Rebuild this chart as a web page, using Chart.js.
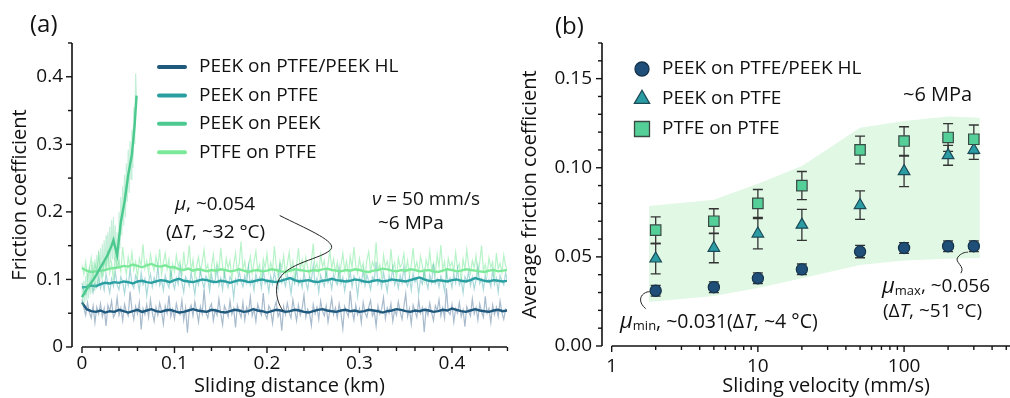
<!DOCTYPE html>
<html>
<head>
<meta charset="utf-8">
<script src="https://cdn.jsdelivr.net/npm/chart.js@4.4.0/dist/chart.umd.min.js"></script>
<style>
  html, body { margin: 0; padding: 0; background: #fff; overflow: hidden; }
  #wrap { position: relative; width: 1010px; height: 398px; overflow: hidden; }
  #boxA { position: absolute; left: 0; top: 0; }
  #boxB { position: absolute; left: 510px; top: 0; }
</style>
</head>
<body>
<div id="wrap">
  <div id="boxA"><canvas id="chartA" width="510" height="398"></canvas></div>
  <div id="boxB"><canvas id="chartB" width="565" height="398"></canvas></div>
</div>
<script>
const FONT = '"Open Sans", "Noto Sans", sans-serif';
Chart.defaults.font.family = FONT;
Chart.defaults.color = '#111';

// ---------- (a) friction coefficient vs sliding distance ----------
const MEAN_STEP = 0.005;      // km between smoothed samples
const RAW_STEP = 0.002;       // km between raw samples
const PEEK_RAW_STEP = 0.001;  // km between raw samples of the short PEEK/PEEK run

const distTicks = [0, 0.1, 0.2, 0.3, 0.4];
const cofTicks = [0, 0.1, 0.2, 0.3, 0.4];

const hlMean = [
  0.066, 0.056, 0.053, 0.052, 0.054, 0.051, 0.053, 0.052, 0.055, 0.053,
  0.051, 0.053, 0.055, 0.052, 0.054, 0.056, 0.053, 0.052, 0.054, 0.055,
  0.053, 0.051, 0.052, 0.054, 0.056, 0.054, 0.053, 0.052, 0.055, 0.054,
  0.052, 0.051, 0.053, 0.055, 0.054, 0.052, 0.053, 0.056, 0.054, 0.053,
  0.051, 0.053, 0.055, 0.054, 0.052, 0.053, 0.055, 0.054, 0.052, 0.051,
  0.053, 0.055, 0.056, 0.054, 0.053, 0.052, 0.054, 0.055, 0.053, 0.054,
  0.052, 0.053, 0.055, 0.054, 0.053, 0.051, 0.053, 0.054, 0.056, 0.055,
  0.053, 0.052, 0.054, 0.053, 0.055, 0.054, 0.052, 0.053, 0.055, 0.054,
  0.057, 0.055, 0.053, 0.052, 0.054, 0.056, 0.054, 0.053, 0.052, 0.054,
  0.055, 0.053, 0.054
];
const ptfeMean = [
  0.088, 0.089, 0.091, 0.090, 0.093, 0.095, 0.094, 0.096, 0.095, 0.097,
  0.096, 0.094, 0.097, 0.098, 0.096, 0.095, 0.097, 0.099, 0.098, 0.096,
  0.099, 0.101, 0.098, 0.097, 0.096, 0.098, 0.100, 0.099, 0.097, 0.096,
  0.098, 0.097, 0.095, 0.097, 0.099, 0.098, 0.096, 0.097, 0.099, 0.100,
  0.098, 0.097, 0.096, 0.098, 0.100, 0.102, 0.099, 0.097, 0.098, 0.099,
  0.097, 0.096, 0.098, 0.099, 0.101, 0.099, 0.098, 0.097, 0.098, 0.100,
  0.099, 0.097, 0.096, 0.098, 0.099, 0.097, 0.098, 0.100, 0.099, 0.098,
  0.097, 0.099, 0.101, 0.103, 0.100, 0.098, 0.097, 0.099, 0.098, 0.097,
  0.099, 0.100, 0.098, 0.097, 0.099, 0.102, 0.100, 0.098, 0.097, 0.099,
  0.098, 0.097, 0.098
];
const ptfePtfeMean = [
  0.117, 0.113, 0.111, 0.112, 0.113, 0.114, 0.116, 0.117, 0.118, 0.120,
  0.119, 0.122, 0.120, 0.118, 0.121, 0.123, 0.120, 0.119, 0.121, 0.118,
  0.118, 0.115, 0.114, 0.116, 0.113, 0.115, 0.114, 0.112, 0.114, 0.113,
  0.115, 0.114, 0.112, 0.113, 0.115, 0.113, 0.111, 0.113, 0.114, 0.112,
  0.113, 0.115, 0.114, 0.112, 0.111, 0.113, 0.115, 0.114, 0.113, 0.112,
  0.114, 0.113, 0.115, 0.116, 0.114, 0.113, 0.112, 0.114, 0.113, 0.115,
  0.114, 0.112, 0.111, 0.113, 0.114, 0.116, 0.115, 0.113, 0.112, 0.114,
  0.113, 0.115, 0.114, 0.112, 0.113, 0.114, 0.112, 0.111, 0.113, 0.115,
  0.114, 0.112, 0.113, 0.115, 0.114, 0.113, 0.112, 0.111, 0.113, 0.114,
  0.112, 0.113, 0.114
];

// raw friction readings, one every RAW_STEP km
const hlRaw = [
  0.070, 0.058, 0.047, 0.066, 0.051, 0.043, 0.061, 0.036, 0.059, 0.049,
  0.064, 0.045, 0.057, 0.031, 0.062, 0.053, 0.068, 0.044, 0.050, 0.073,
  0.047, 0.058, 0.039, 0.063, 0.052, 0.046, 0.082, 0.055, 0.041, 0.060,
  0.049, 0.066, 0.026, 0.057, 0.048, 0.063, 0.044, 0.070, 0.051, 0.038,
  0.059, 0.047, 0.065, 0.053, 0.034, 0.061, 0.050, 0.076, 0.045, 0.056,
  0.042, 0.064, 0.052, 0.048, 0.069, 0.040, 0.058, 0.021, 0.055, 0.062,
  0.046, 0.067, 0.053, 0.037, 0.060, 0.049, 0.085, 0.051, 0.043, 0.058,
  0.064, 0.039, 0.055, 0.047, 0.071, 0.050, 0.033, 0.061, 0.054, 0.045,
  0.068, 0.048, 0.057, 0.029, 0.062, 0.052, 0.044, 0.066, 0.040, 0.059,
  0.050, 0.074, 0.046, 0.056, 0.038, 0.063, 0.053, 0.047, 0.080, 0.049,
  0.042, 0.061, 0.055, 0.035, 0.058, 0.067, 0.045, 0.052, 0.024, 0.060,
  0.048, 0.065, 0.051, 0.043, 0.070, 0.054, 0.039, 0.062, 0.047, 0.057,
  0.077, 0.044, 0.056, 0.050, 0.032, 0.063, 0.049, 0.059, 0.041, 0.068,
  0.053, 0.046, 0.061, 0.037, 0.055, 0.072, 0.048, 0.058, 0.043, 0.064,
  0.050, 0.027, 0.060, 0.052, 0.045, 0.083, 0.054, 0.040, 0.062, 0.048,
  0.057, 0.036, 0.066, 0.051, 0.044, 0.059, 0.069, 0.046, 0.053, 0.031,
  0.061, 0.049, 0.056, 0.073, 0.042, 0.058, 0.050, 0.064, 0.038, 0.055,
  0.047, 0.067, 0.052, 0.041, 0.060, 0.079, 0.045, 0.057, 0.034, 0.062,
  0.053, 0.044, 0.069, 0.050, 0.058, 0.022, 0.056, 0.047, 0.065, 0.051,
  0.039, 0.061, 0.054, 0.070, 0.046, 0.058, 0.043, 0.087, 0.052, 0.048,
  0.063, 0.037, 0.057, 0.050, 0.066, 0.045, 0.055, 0.030, 0.060, 0.053,
  0.046, 0.071, 0.049, 0.058, 0.040, 0.064, 0.052, 0.044, 0.075, 0.050,
  0.057, 0.036, 0.062, 0.048, 0.059, 0.045, 0.068, 0.051, 0.041, 0.056,
  0.052
];
const ptfeRaw = [
  0.095, 0.083, 0.078, 0.092, 0.086, 0.099, 0.081, 0.094, 0.088, 0.103,
  0.087, 0.097, 0.084, 0.108, 0.093, 0.080, 0.101, 0.090, 0.112, 0.092,
  0.085, 0.104, 0.096, 0.079, 0.100, 0.091, 0.115, 0.094, 0.087, 0.106,
  0.098, 0.083, 0.110, 0.092, 0.101, 0.076, 0.097, 0.108, 0.089, 0.103,
  0.094, 0.119, 0.091, 0.099, 0.084, 0.106, 0.095, 0.088, 0.113, 0.097,
  0.086, 0.102, 0.093, 0.122, 0.096, 0.081, 0.104, 0.099, 0.090, 0.109,
  0.095, 0.078, 0.101, 0.092, 0.114, 0.097, 0.087, 0.105, 0.100, 0.083,
  0.107, 0.094, 0.099, 0.117, 0.091, 0.102, 0.085, 0.110, 0.096, 0.088,
  0.104, 0.098, 0.073, 0.101, 0.093, 0.112, 0.097, 0.089, 0.106, 0.095,
  0.120, 0.092, 0.100, 0.084, 0.108, 0.096, 0.103, 0.087, 0.115, 0.094,
  0.099, 0.082, 0.105, 0.093, 0.111, 0.097, 0.086, 0.124, 0.095, 0.101,
  0.090, 0.107, 0.098, 0.079, 0.103, 0.094, 0.116, 0.092, 0.100, 0.088,
  0.109, 0.096, 0.085, 0.104, 0.099, 0.121, 0.093, 0.102, 0.081, 0.106,
  0.097, 0.090, 0.113, 0.095, 0.101, 0.086, 0.108, 0.098, 0.092, 0.118,
  0.094, 0.103, 0.083, 0.100, 0.096, 0.111, 0.089, 0.105, 0.099, 0.075,
  0.102, 0.095, 0.114, 0.091, 0.107, 0.097, 0.085, 0.104, 0.099, 0.126,
  0.093, 0.101, 0.088, 0.110, 0.096, 0.082, 0.105, 0.098, 0.117, 0.092,
  0.100, 0.087, 0.106, 0.095, 0.119, 0.097, 0.090, 0.103, 0.084, 0.109,
  0.096, 0.102, 0.078, 0.100, 0.093, 0.113, 0.098, 0.087, 0.107, 0.095,
  0.123, 0.094, 0.101, 0.089, 0.105, 0.097, 0.083, 0.111, 0.096, 0.102,
  0.088, 0.108, 0.095, 0.116, 0.092, 0.100, 0.080, 0.104, 0.097, 0.112,
  0.091, 0.103, 0.086, 0.099, 0.120, 0.094, 0.101, 0.085, 0.107, 0.096,
  0.100, 0.089, 0.114, 0.093, 0.102, 0.081, 0.106, 0.098, 0.092, 0.110,
  0.097
];
const ptfePtfeRaw = [
  0.121, 0.108, 0.126, 0.101, 0.117, 0.132, 0.105, 0.123, 0.112, 0.138,
  0.115, 0.104, 0.129, 0.118, 0.143, 0.110, 0.124, 0.099, 0.135, 0.119,
  0.127, 0.112, 0.148, 0.121, 0.108, 0.133, 0.117, 0.140, 0.114, 0.126,
  0.103, 0.131, 0.120, 0.152, 0.116, 0.128, 0.109, 0.137, 0.122, 0.113,
  0.134, 0.118, 0.145, 0.107, 0.125, 0.139, 0.115, 0.130, 0.098, 0.123,
  0.111, 0.136, 0.119, 0.127, 0.105, 0.141, 0.116, 0.124, 0.150, 0.112,
  0.129, 0.102, 0.120, 0.133, 0.110, 0.126, 0.144, 0.114, 0.122, 0.096,
  0.118, 0.137, 0.108, 0.125, 0.113, 0.147, 0.119, 0.104, 0.131, 0.116,
  0.128, 0.100, 0.121, 0.139, 0.111, 0.124, 0.156, 0.115, 0.127, 0.106,
  0.119, 0.134, 0.109, 0.126, 0.142, 0.113, 0.122, 0.097, 0.130, 0.117,
  0.138, 0.110, 0.125, 0.114, 0.149, 0.120, 0.103, 0.128, 0.116, 0.135,
  0.107, 0.123, 0.140, 0.112, 0.127, 0.099, 0.121, 0.146, 0.115, 0.129,
  0.111, 0.133, 0.118, 0.105, 0.126, 0.153, 0.114, 0.124, 0.108, 0.137,
  0.119, 0.128, 0.101, 0.122, 0.143, 0.116, 0.130, 0.110, 0.125, 0.098,
  0.121, 0.139, 0.113, 0.127, 0.106, 0.134, 0.117, 0.148, 0.120, 0.109,
  0.131, 0.115, 0.124, 0.102, 0.129, 0.141, 0.112, 0.126, 0.118, 0.155,
  0.114, 0.122, 0.104, 0.136, 0.119, 0.127, 0.110, 0.145, 0.116, 0.125,
  0.100, 0.132, 0.118, 0.123, 0.138, 0.111, 0.128, 0.106, 0.121, 0.147,
  0.115, 0.126, 0.109, 0.134, 0.120, 0.099, 0.129, 0.117, 0.142, 0.113,
  0.124, 0.108, 0.137, 0.118, 0.151, 0.114, 0.127, 0.103, 0.131, 0.119,
  0.126, 0.112, 0.140, 0.116, 0.123, 0.097, 0.130, 0.115, 0.144, 0.121,
  0.109, 0.128, 0.117, 0.135, 0.104, 0.125, 0.150, 0.113, 0.122, 0.107,
  0.132, 0.118, 0.126, 0.101, 0.139, 0.116, 0.124, 0.110, 0.136, 0.120,
  0.115
];

// PEEK on PEEK: short run, friction climbs until the test stops
const peekDist = [0, 0.004, 0.008, 0.012, 0.016, 0.020, 0.024, 0.028, 0.032, 0.034, 0.038, 0.042, 0.046, 0.050, 0.054, 0.057, 0.059];
const peekMean = [0.074, 0.083, 0.092, 0.099, 0.108, 0.118, 0.127, 0.137, 0.150, 0.158, 0.136, 0.185, 0.215, 0.255, 0.285, 0.330, 0.372];
const peekRaw = [
  0.090, 0.060, 0.098, 0.066, 0.105, 0.070, 0.110, 0.072, 0.118, 0.078,
  0.122, 0.080, 0.126, 0.084, 0.130, 0.088, 0.136, 0.092, 0.142, 0.096,
  0.146, 0.100, 0.152, 0.104, 0.158, 0.110, 0.165, 0.114, 0.170, 0.118,
  0.178, 0.124, 0.188, 0.130, 0.192, 0.128, 0.180, 0.115, 0.170, 0.120,
  0.200, 0.145, 0.222, 0.165, 0.238, 0.180, 0.255, 0.192, 0.272, 0.215,
  0.292, 0.228, 0.305, 0.248, 0.322, 0.265, 0.355, 0.300, 0.405, 0.360
];

// ---------- (b) average friction vs sliding velocity ----------
const velocity = [2, 5, 10, 20, 50, 100, 200, 300];
const muHL = [0.031, 0.033, 0.038, 0.043, 0.053, 0.055, 0.056, 0.056];
const errHL = [0.003, 0.003, 0.003, 0.003, 0.0035, 0.003, 0.003, 0.003];
const muPeekPtfe = [0.049, 0.055, 0.063, 0.068, 0.079, 0.098, 0.107, 0.110];
const errPeekPtfe = [0.0085, 0.0083, 0.0085, 0.0087, 0.008, 0.0086, 0.0056, 0.0053];
const muPtfePtfe = [0.065, 0.070, 0.080, 0.090, 0.110, 0.115, 0.117, 0.116];
const errPtfePtfe = [0.0075, 0.007, 0.0078, 0.0079, 0.0078, 0.008, 0.0078, 0.008];

const bandVel = [1.8, 5, 10, 20, 50, 100, 200, 330];
const bandHigh = [0.0785, 0.082, 0.091, 0.101, 0.1225, 0.1262, 0.1287, 0.128];
const bandLow = [0.0247, 0.028, 0.0326, 0.038, 0.0455, 0.048, 0.049, 0.0494];

const velTicks = [1, 10, 100, 1000];
const avgTicks = [0, 0.05, 0.10, 0.15];

// ---------- helpers ----------
const onGrid = (vals, step) => vals.map((v, i) => ({ x: +(i * step).toFixed(4), y: v }));
const paired = (xs, ys) => xs.map((x, i) => ({ x: x, y: ys[i] }));

function richText(ctx, x, y, runs, size) {
  let cx = x;
  runs.forEach(r => {
    const s = r.size || size;
    ctx.font = (r.italic ? 'italic ' : '') + s + 'px ' + FONT;
    ctx.fillText(r.t, cx, y + (r.dy || 0));
    cx += ctx.measureText(r.t).width;
  });
}

// axis lines and tick marks; tick labels and titles come from the scales
function axesPlugin(cfg) {
  return {
    id: 'axes',
    afterDraw(chart) {
      const { ctx, chartArea: a, scales: { x, y } } = chart;
      ctx.save();
      ctx.strokeStyle = '#111';
      ctx.lineWidth = 1.6;
      ctx.beginPath();
      ctx.moveTo(a.left, a.top);
      ctx.lineTo(a.left, a.bottom);
      ctx.stroke();
      const x0 = x.getPixelForValue(cfg.xStart);
      ctx.beginPath();
      ctx.moveTo(x0, a.bottom);
      ctx.lineTo(a.right, a.bottom);
      ctx.stroke();
      ctx.lineWidth = 1.4;
      const tickX = (v, len) => {
        const px = x.getPixelForValue(v);
        ctx.beginPath(); ctx.moveTo(px, a.bottom); ctx.lineTo(px, a.bottom + len); ctx.stroke();
      };
      const tickY = (v, len) => {
        const py = y.getPixelForValue(v);
        ctx.beginPath(); ctx.moveTo(a.left, py); ctx.lineTo(a.left - len, py); ctx.stroke();
      };
      cfg.xMajor.forEach(v => tickX(v, 6));
      cfg.xMinor.forEach(v => tickX(v, 4));
      cfg.yMajor.forEach(v => tickY(v, 6));
      cfg.yMinor.forEach(v => tickY(v, 4));
      ctx.restore();
    }
  };
}

function fixedTicks(values) {
  return scale => { scale.ticks = values.map(v => ({ value: v })); };
}

// ---------- chart (a) ----------
const namesA = ['PEEK on PTFE/PEEK HL', 'PEEK on PTFE', 'PEEK on PEEK', 'PTFE on PTFE'];
const colorsA = ['#1f5a7e', '#2a9fa2', '#4cc98e', '#7ce99a'];

const minorDist = [];
for (let i = 1; i <= 23; i++) if (i % 5) minorDist.push(+(i * 0.02).toFixed(2));
const minorCof = [0.05, 0.15, 0.25, 0.35, 0.45];

const legendA = {
  id: 'legendA',
  afterDraw(chart) {
    const ctx = chart.ctx;
    ctx.save();
    ctx.lineCap = 'round';
    ctx.lineWidth = 4;
    ctx.textBaseline = 'middle';
    ctx.fillStyle = '#111';
    ctx.font = '19px ' + FONT;
    namesA.forEach((name, i) => {
      const yy = 67 + i * 28.4;
      ctx.strokeStyle = colorsA[i];
      ctx.beginPath(); ctx.moveTo(159, yy); ctx.lineTo(185, yy); ctx.stroke();
      ctx.fillText(name, 199, yy);
    });
    ctx.restore();
  }
};

const notesA = {
  id: 'notesA',
  afterDraw(chart) {
    const { ctx, scales: { x, y } } = chart;
    ctx.save();
    ctx.fillStyle = '#111';
    ctx.textBaseline = 'middle';
    ctx.font = '24px ' + FONT;
    ctx.fillText('(a)', 30, 25);
    richText(ctx, 175, 205, [{ t: 'μ', italic: true }, { t: ', ~0.054' }], 19);
    richText(ctx, 166, 233, [{ t: '(Δ' }, { t: 'T', italic: true }, { t: ', ~32 °C)' }], 19);
    richText(ctx, 372, 200, [{ t: 'ν', italic: true }, { t: ' = 50 mm/s' }], 19);
    richText(ctx, 378, 224, [{ t: '~6 MPa' }], 19);
    // leader from the label down to the HL trace
    const ax = x.getPixelForValue(0.217), ay = y.getPixelForValue(0.054);
    ctx.strokeStyle = '#222';
    ctx.lineWidth = 1;
    ctx.beginPath();
    ctx.moveTo(ax - 3, ay - 95);
    ctx.bezierCurveTo(ax + 27, ay - 80, ax + 57, ay - 68, ax + 47, ay - 60);
    ctx.bezierCurveTo(ax + 35, ay - 50, ax - 3, ay - 47, ax - 6, ay - 24);
    ctx.bezierCurveTo(ax - 7, ay - 12, ax - 3, ay - 5, ax, ay);
    ctx.stroke();
    ctx.restore();
  }
};

const lineSet = (label, data, color, width, order) => ({
  label: label, data: data, borderColor: color, borderWidth: width,
  pointRadius: 0, fill: false, tension: 0, order: order
});

new Chart(document.getElementById('chartA'), {
  type: 'line',
  data: {
    datasets: [
      lineSet('PEEK on PEEK', paired(peekDist, peekMean), colorsA[2], 2.4, 0),
      lineSet('PEEK on PTFE/PEEK HL', onGrid(hlMean, MEAN_STEP), colorsA[0], 2.4, 1),
      lineSet('PEEK on PTFE', onGrid(ptfeMean, MEAN_STEP), colorsA[1], 2.4, 2),
      lineSet('PTFE on PTFE', onGrid(ptfePtfeMean, MEAN_STEP), colorsA[3], 2.4, 3),
      lineSet('PEEK on PEEK raw', onGrid(peekRaw, PEEK_RAW_STEP), 'rgba(110,215,160,0.4)', 1.2, 0.5),
      lineSet('PEEK on PTFE/PEEK HL raw', onGrid(hlRaw, RAW_STEP), 'rgba(60,105,145,0.45)', 1.2, 5),
      lineSet('PEEK on PTFE raw', onGrid(ptfeRaw, RAW_STEP), 'rgba(42,159,162,0.4)', 1.2, 6),
      lineSet('PTFE on PTFE raw', onGrid(ptfePtfeRaw, RAW_STEP), 'rgba(124,233,154,0.55)', 1.2, 7)
    ]
  },
  options: {
    responsive: false,
    animation: false,
    layout: { padding: { left: 0, right: 3, top: 43, bottom: 0 } },
    plugins: { legend: { display: false }, tooltip: { enabled: false } },
    scales: {
      x: {
        type: 'linear', min: -0.0108, max: 0.4595,
        afterFit: s => { s.height = 51; },
        afterBuildTicks: fixedTicks(distTicks),
        grid: { display: false, drawTicks: true, tickLength: 4 },
        border: { display: false },
        ticks: { padding: 1, autoSkip: false, maxRotation: 0, color: '#111', font: { size: 19 },
                 callback: v => v === 0 ? '0' : v.toFixed(1) },
        title: { display: true, text: 'Sliding distance (km)', color: '#111', font: { size: 20 }, padding: { top: 0, bottom: 0 } }
      },
      y: {
        min: 0, max: 0.45,
        afterFit: s => { s.width = 72; },
        afterBuildTicks: fixedTicks(cofTicks),
        grid: { display: false, drawTicks: true, tickLength: 6 },
        border: { display: false },
        ticks: { padding: 3, autoSkip: false, color: '#111', font: { size: 19 },
                 callback: v => v === 0 ? '0' : v.toFixed(1) },
        title: { display: true, text: 'Friction coefficient', color: '#111', font: { size: 20 }, padding: { top: 8, bottom: 0 } }
      }
    }
  },
  plugins: [axesPlugin({ xStart: 0, xMajor: distTicks, xMinor: minorDist, yMajor: cofTicks, yMinor: minorCof }), legendA, notesA]
});

// ---------- chart (b) ----------
const markerSeries = [
  { label: 'PEEK on PTFE/PEEK HL', mu: muHL, err: errHL, style: 'circle', radius: 5.6, legendRadius: 7,
    fill: '#1f4f78', edge: '#15324b' },
  { label: 'PEEK on PTFE', mu: muPeekPtfe, err: errPeekPtfe, style: 'triangle', radius: 6.7, legendRadius: 8.8,
    fill: '#2b9ca3', edge: '#1c4a57' },
  { label: 'PTFE on PTFE', mu: muPtfePtfe, err: errPtfePtfe, style: 'rect', radius: 7.4, legendRadius: 10.6,
    fill: '#55cf98', edge: '#394a44' }
];

const minorVel = [];
[1, 10, 100].forEach(d => { for (let k = 2; k <= 9; k++) minorVel.push(k * d); });
const minorAvg = [];
for (let i = 1; i <= 17; i++) if (i % 5) minorAvg.push(+(i * 0.01).toFixed(2));

const errorBars = {
  id: 'errorBars',
  beforeDatasetsDraw(chart) {
    const { ctx, scales: { x, y } } = chart;
    ctx.save();
    ctx.strokeStyle = '#333';
    ctx.lineWidth = 1.3;
    markerSeries.forEach(s => {
      velocity.forEach((v, i) => {
        const px = x.getPixelForValue(v);
        const top = y.getPixelForValue(s.mu[i] + s.err[i]);
        const bot = y.getPixelForValue(s.mu[i] - s.err[i]);
        ctx.beginPath();
        ctx.moveTo(px, top); ctx.lineTo(px, bot);
        ctx.moveTo(px - 5, top); ctx.lineTo(px + 5, top);
        ctx.moveTo(px - 5, bot); ctx.lineTo(px + 5, bot);
        ctx.stroke();
      });
    });
    ctx.restore();
  }
};

const legendB = {
  id: 'legendB',
  afterDraw(chart) {
    const ctx = chart.ctx;
    ctx.save();
    ctx.textBaseline = 'middle';
    markerSeries.forEach((s, i) => {
      const yy = 69 + i * 30;
      ctx.fillStyle = s.fill;
      ctx.strokeStyle = s.edge;
      ctx.lineWidth = 1.3;
      Chart.helpers.drawPoint(ctx, { pointStyle: s.style, radius: s.legendRadius, rotation: 0, borderWidth: 1.3 }, 132, yy);
      ctx.fillStyle = '#111';
      ctx.font = '19px ' + FONT;
      ctx.fillText(s.label, 152, yy);
    });
    ctx.restore();
  }
};

const notesB = {
  id: 'notesB',
  afterDraw(chart) {
    const { ctx, scales: { x, y } } = chart;
    ctx.save();
    ctx.fillStyle = '#111';
    ctx.textBaseline = 'middle';
    ctx.font = '24px ' + FONT;
    ctx.fillText('(b)', 45, 27);
    richText(ctx, 393, 95, [{ t: '~6 MPa' }], 20);
    richText(ctx, 110, 322, [{ t: 'μ', italic: true, size: 22 }, { t: 'min', size: 13, dy: 4 },
      { t: ', ~0.031(Δ' }, { t: 'T', italic: true }, { t: ', ~4 °C)' }], 19.5);
    richText(ctx, 372, 287, [{ t: 'μ', italic: true, size: 22 }, { t: 'max', size: 13, dy: 4 }, { t: ', ~0.056' }], 19);
    richText(ctx, 373, 312, [{ t: '(Δ' }, { t: 'T', italic: true }, { t: ', ~51 °C)' }], 19);
    // small leaders to the lowest and highest HL points
    ctx.strokeStyle = '#222';
    ctx.lineWidth = 1;
    const p0x = x.getPixelForValue(velocity[0]), p0y = y.getPixelForValue(muHL[0]);
    ctx.beginPath();
    ctx.moveTo(p0x - 10, p0y + 18);
    ctx.bezierCurveTo(p0x - 17, p0y + 12, p0x - 16, p0y + 6, p0x - 12, p0y + 3);
    ctx.bezierCurveTo(p0x - 9, p0y + 1, p0x - 8, p0y + 1, p0x - 6, p0y + 1);
    ctx.stroke();
    const p1x = x.getPixelForValue(velocity[7]), p1y = y.getPixelForValue(muHL[7]);
    ctx.beginPath();
    ctx.moveTo(p1x - 13, p1y + 27);
    ctx.bezierCurveTo(p1x - 8, p1y + 20, p1x - 20, p1y + 16, p1x - 16, p1y + 11);
    ctx.bezierCurveTo(p1x - 13, p1y + 7, p1x - 9, p1y + 6, p1x - 6, p1y + 6);
    ctx.stroke();
    ctx.restore();
  }
};

const bandSet = (data, fill) => ({
  data: data, borderWidth: 0, pointRadius: 0, showLine: true, tension: 0,
  backgroundColor: '#e1f8e5', fill: fill, order: 10
});

new Chart(document.getElementById('chartB'), {
  type: 'line',
  data: {
    datasets: [
      bandSet(paired(bandVel, bandHigh), false),
      bandSet(paired(bandVel, bandLow), '-1')
    ].concat(markerSeries.map((s, i) => ({
      label: s.label,
      data: paired(velocity, s.mu),
      showLine: false,
      pointStyle: s.style,
      pointRadius: s.radius,
      pointBackgroundColor: s.fill,
      pointBorderColor: s.edge,
      pointBorderWidth: 1.2,
      order: 3 - i
    })))
  },
  options: {
    responsive: false,
    animation: false,
    layout: { padding: { left: 0, right: 10, top: 43, bottom: 0 } },
    plugins: { legend: { display: false }, tooltip: { enabled: false }, filler: { drawTime: 'beforeDatasetsDraw' } },
    scales: {
      x: {
        type: 'logarithmic', min: 0.8587, max: 1000,
        afterFit: s => { s.height = 52; },
        afterBuildTicks: fixedTicks(velTicks),
        grid: { display: false, drawTicks: true, tickLength: 6 },
        border: { display: false },
        ticks: { padding: 3, autoSkip: false, maxRotation: 0, color: '#111', font: { size: 19 },
                 callback: v => String(v) },
        title: { display: true, text: 'Sliding velocity (mm/s)', color: '#111', font: { size: 20 }, padding: { top: 0, bottom: 0 } }
      },
      y: {
        min: 0, max: 0.17,
        afterFit: s => { s.width = 92; },
        afterBuildTicks: fixedTicks(avgTicks),
        grid: { display: false, drawTicks: true, tickLength: 6 },
        border: { display: false },
        ticks: { padding: 4, autoSkip: false, color: '#111', font: { size: 19 },
                 callback: v => v.toFixed(2) },
        title: { display: true, text: 'Average friction coefficient', color: '#111', font: { size: 20 }, padding: { top: 8, bottom: 0 } }
      }
    }
  },
  plugins: [axesPlugin({ xStart: 1, xMajor: velTicks, xMinor: minorVel, yMajor: avgTicks, yMinor: minorAvg }), errorBars, legendB, notesB]
});
</script>
</body>
</html>
